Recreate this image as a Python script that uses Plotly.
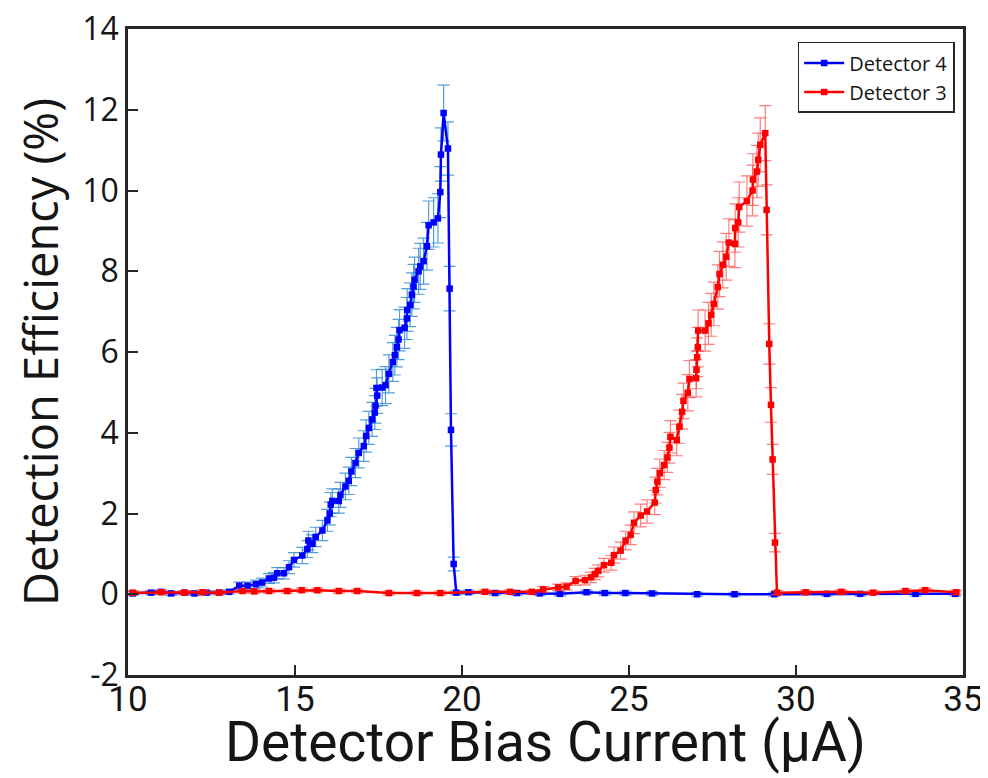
import plotly.graph_objects as go

# ---------------- data ----------------
det4_x = [10.14, 10.69, 10.99, 11.29, 11.69, 11.99, 12.35, 12.73, 13.03, 13.33,
          13.58, 13.83, 14.02, 14.22, 14.37, 14.47, 14.67, 14.82, 14.97, 15.22,
          15.37, 15.40, 15.52, 15.62, 15.82, 15.97, 16.04, 16.07, 16.12, 16.31,
          16.36, 16.51, 16.61, 16.69, 16.81, 16.91, 17.06, 17.13, 17.21, 17.31,
          17.39, 17.41, 17.46, 17.44, 17.61, 17.71, 17.81, 17.93, 17.99, 18.05,
          18.10, 18.13, 18.28, 18.35, 18.36, 18.45, 18.50, 18.55, 18.58, 18.70,
          18.75, 18.85, 18.95, 19.00, 19.15, 19.28, 19.35, 19.37, 19.45, 19.58,
          19.63, 19.67, 19.75, 19.83,
          20.19, 20.99, 21.64, 22.33, 22.93, 23.73, 24.27, 24.89, 25.69, 27.04,
          28.16, 29.35, 30.92, 31.92, 33.58, 34.77]
det4_y = [0.02, 0.04, 0.06, 0.02, 0.04, 0.02, 0.04, 0.04, 0.06, 0.21,
          0.21, 0.25, 0.29, 0.39, 0.41, 0.52, 0.52, 0.67, 0.85, 0.96,
          1.12, 1.33, 1.25, 1.42, 1.58, 1.83, 2.00, 2.22, 2.31, 2.31,
          2.46, 2.67, 2.81, 3.04, 3.25, 3.50, 3.67, 3.92, 4.12, 4.33,
          4.50, 4.67, 4.92, 5.11, 5.12, 5.18, 5.46, 5.75, 5.92, 6.12,
          6.31, 6.54, 6.60, 6.83, 7.04, 7.17, 7.42, 7.62, 7.79, 8.00,
          8.12, 8.25, 8.62, 9.14, 9.21, 9.31, 9.96, 10.89, 11.92, 11.04,
          7.57, 4.07, 0.75, 0.04,
          0.05, 0.03, 0.03, 0.02, 0.01, 0.05, 0.03, 0.03, 0.02, 0.00,
          0.00, 0.00, 0.01, 0.01, 0.01, 0.01]
det4_err = [0.05, 0.05, 0.05, 0.05, 0.05, 0.05, 0.05, 0.05, 0.05, 0.09,
            0.09, 0.10, 0.11, 0.12, 0.13, 0.14, 0.14, 0.16, 0.18, 0.20,
            0.21, 0.23, 0.22, 0.24, 0.25, 0.27, 0.28, 0.30, 0.30, 0.30,
            0.31, 0.33, 0.34, 0.35, 0.36, 0.37, 0.38, 0.40, 0.41, 0.42,
            0.42, 0.43, 0.44, 0.45, 0.45, 0.46, 0.47, 0.48, 0.49, 0.49,
            0.50, 0.51, 0.51, 0.52, 0.53, 0.54, 0.54, 0.55, 0.56, 0.57,
            0.57, 0.57, 0.59, 0.60, 0.61, 0.61, 0.63, 0.66, 0.69, 0.66,
            0.55, 0.40, 0.17, 0.05,
            0.05, 0.05, 0.05, 0.05, 0.05, 0.05, 0.05, 0.05, 0.05, 0.05,
            0.05, 0.05, 0.05, 0.05, 0.05, 0.05]

det3_x = [10.14, 10.99, 11.69, 12.23, 12.73, 13.43, 13.78, 14.22, 14.77, 15.20,
          15.67, 16.31, 16.86, 17.81, 18.65, 19.35, 20.69,
          21.44, 22.09, 22.43, 22.88, 23.13, 23.40, 23.68, 23.86, 23.98, 24.08,
          24.25, 24.47, 24.55, 24.75, 24.90, 25.05, 25.15, 25.35, 25.54, 25.77,
          25.80, 25.85, 25.92, 26.05, 26.15, 26.21, 26.24, 26.43, 26.51, 26.59,
          26.63, 26.76, 26.81, 27.01, 27.02, 27.04, 27.06, 27.07, 27.28, 27.38,
          27.46, 27.54, 27.66, 27.71, 27.81, 27.91, 27.99, 28.17, 28.18, 28.27,
          28.30, 28.53, 28.70, 28.71, 28.83, 28.87, 28.93, 29.08, 29.12, 29.20,
          29.25, 29.30, 29.37, 29.43,
          30.29, 31.36, 32.31, 33.28, 33.87, 34.80]
det3_y = [0.04, 0.05, 0.04, 0.05, 0.04, 0.08, 0.07, 0.08, 0.08, 0.10,
          0.10, 0.08, 0.08, 0.03, 0.03, 0.03, 0.06,
          0.06, 0.06, 0.12, 0.17, 0.19, 0.33, 0.35, 0.42, 0.50, 0.58,
          0.72, 0.78, 0.97, 1.08, 1.33, 1.47, 1.77, 1.95, 2.05, 2.27,
          2.58, 2.79, 3.00, 3.20, 3.39, 3.63, 3.90, 3.82, 4.15, 4.52,
          4.79, 4.99, 5.33, 5.35, 5.56, 5.87, 6.12, 6.53, 6.53, 6.71,
          6.92, 7.19, 7.61, 7.93, 8.16, 8.36, 8.71, 8.68, 9.07, 9.21,
          9.59, 9.74, 10.00, 10.27, 10.47, 10.76, 11.13, 11.42, 9.52, 6.20,
          4.69, 3.34, 1.28, 0.04,
          0.05, 0.06, 0.04, 0.08, 0.10, 0.05]
det3_err = [0.05, 0.05, 0.05, 0.05, 0.05, 0.05, 0.05, 0.05, 0.05, 0.05,
            0.05, 0.05, 0.05, 0.05, 0.05, 0.05, 0.05,
            0.05, 0.05, 0.07, 0.08, 0.09, 0.11, 0.12, 0.13, 0.14, 0.15,
            0.17, 0.18, 0.20, 0.21, 0.23, 0.24, 0.27, 0.28, 0.29, 0.30,
            0.32, 0.33, 0.35, 0.36, 0.37, 0.38, 0.40, 0.39, 0.41, 0.43,
            0.44, 0.45, 0.46, 0.46, 0.47, 0.48, 0.49, 0.51, 0.51, 0.52,
            0.53, 0.54, 0.55, 0.56, 0.57, 0.58, 0.59, 0.59, 0.60, 0.61,
            0.62, 0.62, 0.63, 0.64, 0.65, 0.66, 0.67, 0.68, 0.62, 0.50,
            0.43, 0.37, 0.23, 0.05,
            0.05, 0.05, 0.05, 0.05, 0.05, 0.05]

series_names = ["Detector 4", "Detector 3"]
x_ticks = [10, 15, 20, 25, 30, 35]
x_tick_labels = ["10", "15", "20", "25", "30", "35"]
y_ticks = [-2, 0, 2, 4, 6, 8, 10, 12, 14]
y_tick_labels = ["-2", "0", "2", "4", "6", "8", "10", "12", "14"]
x_title = "Detector Bias Current (μA)"
y_title = "Detection Efficiency (%)"

# ---------------- figure ----------------
REG = "Open Sans, Noto Sans, sans-serif"
XFONT = "Roboto, Liberation Sans, sans-serif"
INK = "#151515"

fig = go.Figure()
fig.add_trace(go.Scatter(
    x=det4_x, y=det4_y, name=series_names[0], mode="lines+markers",
    line=dict(color="#0000ff", width=2.5),
    marker=dict(symbol="square", size=6.5, color="#0000ff"),
    error_y=dict(type="data", array=det4_err, visible=True,
                 color="rgba(40,135,210,0.8)", thickness=1.2, width=6),
))
fig.add_trace(go.Scatter(
    x=det3_x, y=det3_y, name=series_names[1], mode="lines+markers",
    line=dict(color="#ff0000", width=2.5),
    marker=dict(symbol="square", size=6.5, color="#ff0000"),
    error_y=dict(type="data", array=det3_err, visible=True,
                 color="rgba(255,70,70,0.7)", thickness=1.2, width=6),
))

axis_common = dict(
    showgrid=False, zeroline=False, showline=True, linecolor="#262626",
    linewidth=2.5, mirror=True, ticks="inside", ticklen=10, tickwidth=2,
    tickcolor="#262626", ticklabeloverflow="allow",
)
fig.update_xaxes(range=[10, 35], tickvals=x_ticks, ticktext=x_tick_labels,
                 **axis_common, ticklabelstandoff=-9,
                 tickfont=dict(family=XFONT, size=35, color=INK))
fig.update_yaxes(range=[-2, 14], tickvals=y_ticks, ticktext=y_tick_labels,
                 **axis_common,
                 tickfont=dict(family=REG, size=32, color=INK),
                 title=dict(text=y_title, standoff=23,
                            font=dict(family=REG, size=47, color=INK)))

# x-axis title placed precisely below the tick labels
fig.add_annotation(text=x_title, xref="paper", yref="paper", x=0.5, y=0,
                   xanchor="center", yanchor="middle", yshift=-67,
                   showarrow=False,
                   font=dict(family=XFONT, size=55, color=INK))

# the page adds an 8 px body margin, so the figure is 980x770 inside the window
fig.update_layout(
    width=980, height=770,
    margin=dict(l=120, r=25, t=21, b=103, autoexpand=False),
    paper_bgcolor="white", plot_bgcolor="white",
    showlegend=True,
    legend=dict(x=0.99, y=0.98, xanchor="right", yanchor="top",
                bgcolor="white", bordercolor="#262626", borderwidth=1.5,
                font=dict(family=REG, size=20, color=INK),
                tracegroupgap=0, itemwidth=40),
)

fig.write_html("out.html")
